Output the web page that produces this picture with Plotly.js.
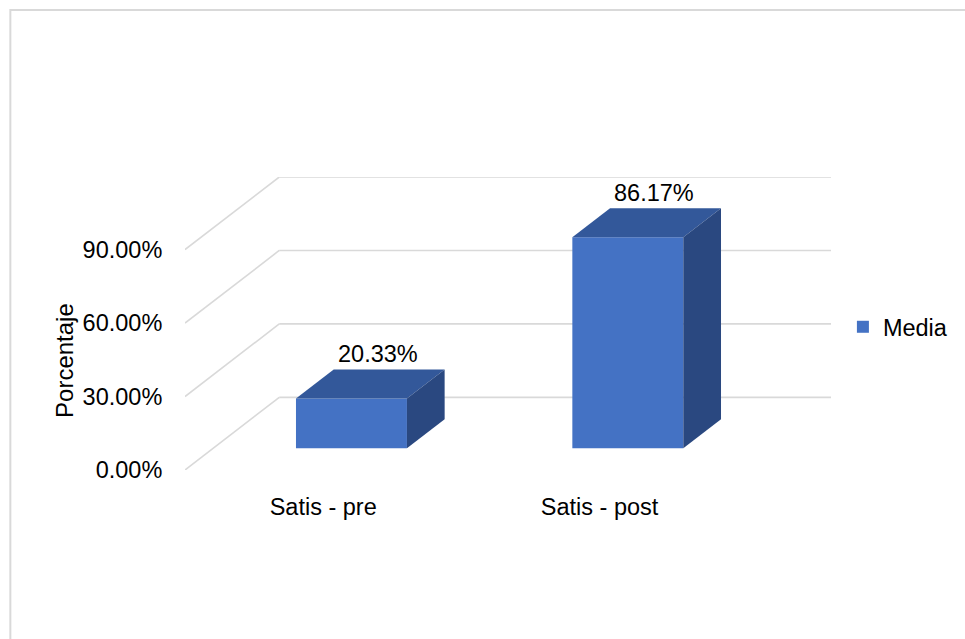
<!DOCTYPE html>
<html>
<head>
<meta charset="utf-8">
<script src="https://cdn.plot.ly/plotly-3.0.1.min.js"></script>
<style>html,body{margin:0;padding:0;background:#fff;}#chart{width:965px;height:639px;}</style>
</head>
<body>
<div id="chart"></div>
<script>
// ---- data ----
const categories = ['Satis - pre', 'Satis - post'];
const values = [20.33, 86.17];
const valueLabels = ['20.33%', '86.17%'];
const seriesName = 'Media';
const tickValues = [0, 30, 60, 90];
const tickLabels = ['0.00%', '30.00%', '60.00%', '90.00%'];

// ---- 3D oblique projection settings (in axis units) ----
const STEP = 278.5;           // px per category
const DX = 95 / STEP;         // full wall depth, x units
const DY = 29.66;             // full wall depth, y units (percent)
const d1 = 0.30, d2 = 0.70;   // bar front / back depth fractions
const BW = 0.4015;            // bar width (category units)
const labelDepth = 0.58;

const xMin = -0.5, xMax = categories.length - 0.5;

const cFront = '#4472C4', cTop = '#33589A', cSide = '#2A4880', cGrid = '#D9D9D9';
const font = {family: 'Liberation Sans, Arial, sans-serif', size: 23.5, color: '#000'};

const shapes = [];
// wall gridlines (left wall diagonal + back wall horizontal)
tickValues.forEach(v => {
  shapes.push({type:'line', xref:'x', yref:'y', layer:'below', x0:xMin, y0:v, x1:xMin+DX, y1:v+DY, line:{color:cGrid, width:1.6}});
  shapes.push({type:'line', xref:'x', yref:'y', layer:'below', x0:xMin+DX, y0:v+DY, x1:xMax+DX, y1:v+DY, line:{color:cGrid, width:1.6}});
});
// outer chart border
shapes.push({type:'rect', xref:'paper', yref:'paper', layer:'below',
  x0:(9-185)/651, x1:(980-185)/651, y0:(470-660)/293, y1:(470-10)/293,
  line:{color:'#D9D9D9', width:2}, fillcolor:'rgba(0,0,0,0)'});

const traces = [];
// front faces
traces.push({
  type:'bar', name: seriesName,
  x: categories.map((c,i) => i + d1*DX),
  y: values,
  base: values.map(() => d1*DY),
  width: BW,
  marker:{color:cFront, line:{width:0}},
  hoverinfo:'skip', showlegend:true
});
// top and side faces
values.forEach((v,i) => {
  const xL = i - BW/2 + d1*DX, xR = i + BW/2 + d1*DX;
  const ddx = (d2-d1)*DX;
  traces.push({type:'scatter', mode:'lines', fill:'toself', fillcolor:cTop, line:{width:0, color:cTop},
    x:[xL, xR, xR+ddx, xL+ddx, xL], y:[v+d1*DY, v+d1*DY, v+d2*DY, v+d2*DY, v+d1*DY],
    hoverinfo:'skip', showlegend:false});
  traces.push({type:'scatter', mode:'lines', fill:'toself', fillcolor:cSide, line:{width:0, color:cSide},
    x:[xR, xR+ddx, xR+ddx, xR, xR], y:[v+d1*DY, v+d2*DY, d2*DY, d1*DY, v+d1*DY],
    hoverinfo:'skip', showlegend:false});
});

const annotations = values.map((v,i) => ({
  xref:'x', yref:'y', x: i + labelDepth*DX, y: v + d2*DY, yshift: 15,
  text: valueLabels[i], showarrow:false, xanchor:'center', yanchor:'middle', font: font
}));
annotations.push({xref:'paper', yref:'paper', x:(63-185)/651, y:(470-360)/293,
  text:'Porcentaje', textangle:-90, showarrow:false, xanchor:'center', yanchor:'middle',
  font: Object.assign({}, font, {size:24})});

const layout = {
  width:965, height:639,
  margin:{l:185, r:129, t:177, b:169, pad:0},
  paper_bgcolor:'#fff', plot_bgcolor:'rgba(0,0,0,0)',
  font: font,
  xaxis:{range:[xMin, xMin + 651/STEP], tickvals: categories.map((c,i)=>i), ticktext: categories,
    showgrid:false, zeroline:false, showline:false, ticks:'outside', ticklen:16, tickcolor:'rgba(0,0,0,0)',
    tickfont: font, fixedrange:true},
  yaxis:{range:[0, 90 + DY], tickvals: tickValues, ticktext: tickLabels,
    showgrid:false, zeroline:false, showline:false, ticks:'outside', ticklen:17, tickcolor:'rgba(0,0,0,0)',
    tickfont: font, fixedrange:true},
  showlegend:true,
  legend:{x:1+(848-836)/651, y:(470-327)/293, xanchor:'left', yanchor:'middle', font: font,
    bgcolor:'rgba(0,0,0,0)', borderwidth:0},
  shapes: shapes,
  annotations: annotations,
  barmode:'overlay'
};

Plotly.newPlot('chart', traces, layout, {displayModeBar:false, staticPlot:true});
</script>
</body>
</html>
